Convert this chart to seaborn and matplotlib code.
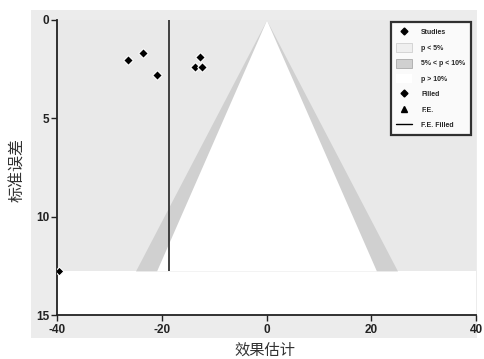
import numpy as np
import pandas as pd
import matplotlib
matplotlib.use("Agg")
import matplotlib.pyplot as plt
from matplotlib.patches import Rectangle
from matplotlib.lines import Line2D
import seaborn as sns

# Observed studies: effect estimate and standard error
study_effect = [-26.4, -23.6, -20.9, -12.7, -13.6, -12.3]
study_se = [2.03, 1.68, 2.80, 1.88, 2.39, 2.39]

# Study imputed by trim-and-fill
filled_effect = [-39.6]
filled_se = [12.76]

# Fixed-effect estimate after filling
fe_filled = -18.6

# Funnel extent and significance contours (two-sided z)
se_max = 12.76
z_10 = 1.645
z_05 = 1.96

x_ticks = [-40, -20, 0, 20, 40]
y_ticks = [0, 5, 10, 15]

sns.set_theme(style="white")
plt.rcParams["font.family"] = ["Liberation Sans", "Noto Sans CJK SC", "DejaVu Sans"]

fig = plt.figure(figsize=(4.84, 3.59), dpi=100)
fig.patch.set_facecolor("white")
# grey panel behind the plot
panel = Rectangle((31 / 484, 1 - 338 / 359), (477 - 31) / 484, (338 - 10) / 359,
                  transform=fig.transFigure, facecolor="#ececec",
                  edgecolor="none", zorder=-10)
fig.add_artist(panel)
ax = fig.add_axes([57 / 484, 1 - 315 / 359, (476 - 57) / 484, (315 - 20) / 359])
ax.set_zorder(5)
ax.set_facecolor("white")

light = "#e9e9e9"
band = "#d0d0d0"

se_grid = np.array([0.0, se_max])
# p < 5% region (outside the funnel)
ax.fill_between([-40, 40], 0, se_max, color=light, lw=0, zorder=1)
# 5% < p < 10% bands
ax.fill_betweenx(se_grid, -z_05 * se_grid, z_05 * se_grid, color=band, lw=0, zorder=2)
# p > 10% region
ax.fill_betweenx(se_grid, -z_10 * se_grid, z_10 * se_grid, color="white", lw=0, zorder=3)

ax.vlines(fe_filled, 0, se_max, color="#333333", lw=1.3, zorder=4)

studies = pd.DataFrame({"effect": study_effect, "se": study_se})
filled = pd.DataFrame({"effect": filled_effect, "se": filled_se})
sns.scatterplot(data=studies, x="effect", y="se", marker="D", s=24, color="black",
                edgecolor="white", linewidth=0.8, ax=ax, zorder=5)
sns.scatterplot(data=filled, x="effect", y="se", marker="D", s=20, color="black",
                edgecolor="white", linewidth=0.8, ax=ax, zorder=5)

ax.set_xlim(-40, 40)
ax.set_ylim(15, 0)
ax.set_xticks(x_ticks)
ax.set_yticks(y_ticks)
ax.set_xticklabels([str(v) for v in x_ticks], fontweight="bold", fontsize=8.5)
ax.set_yticklabels([str(v) for v in y_ticks], fontweight="bold", fontsize=8.5)
ax.tick_params(axis="both", direction="out", length=4, width=1, color="#222222",
               labelcolor="#222222", pad=1.5, bottom=True, left=True)
ax.tick_params(axis="x", pad=2.5)
for side in ["top", "right"]:
    ax.spines[side].set_visible(False)
for side in ["left", "bottom"]:
    ax.spines[side].set_color("#222222")
    ax.spines[side].set_linewidth(1.3)

ax.set_xlabel("")
ax.set_ylabel("")
fig.text(265 / 484, 1 - 350 / 359, "效果估计", ha="center", va="center",
         fontsize=11, color="#333333", family=["Noto Sans CJK SC"])
fig.text(18 / 484, 1 - 170 / 359, "标准误差", ha="center", va="center", rotation=90,
         fontsize=11.5, color="#333333", family=["Noto Sans CJK SC"])

handles = [
    Line2D([], [], marker="D", ls="none", color="black", markersize=3.5),
    Rectangle((0, 0), 1, 1, facecolor="#efefef", edgecolor="#cfcfcf", lw=0.6),
    Rectangle((0, 0), 1, 1, facecolor="#d0d0d0", edgecolor="#aaaaaa", lw=0.6),
    Rectangle((0, 0), 1, 1, facecolor="white", edgecolor="none"),
    Line2D([], [], marker="D", ls="none", color="black", markersize=3.5),
    Line2D([], [], marker="^", ls="none", color="black", markersize=4),
    Line2D([], [], color="black", lw=1),
]
labels = ["Studies", "p < 5%", "5% < p < 10%", "p > 10%", "Filled", "F.E.", "F.E. Filled"]
leg = ax.legend(handles, labels, loc="upper right", bbox_to_anchor=(0.988, 0.993),
                frameon=True, fancybox=False, prop={"size": 5, "weight": "bold"},
                borderpad=0.8, labelspacing=0.95, handlelength=2.3, handleheight=1.6,
                handletextpad=1.3, borderaxespad=0)
leg.get_frame().set_edgecolor("black")
leg.get_frame().set_linewidth(1.6)
leg.get_frame().set_facecolor("white")
leg.set_zorder(10)

fig.savefig("out.png", dpi=100)
